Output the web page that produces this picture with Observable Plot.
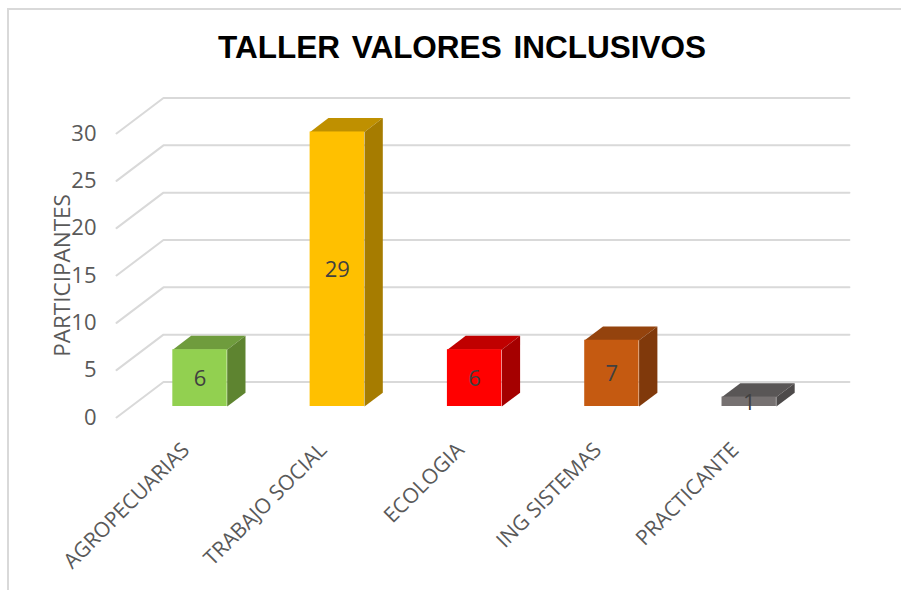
<!DOCTYPE html>
<html lang="es">
<head>
<meta charset="utf-8">
<script src="https://cdn.jsdelivr.net/npm/d3@7"></script>
<script src="https://cdn.jsdelivr.net/npm/@observablehq/plot@0.6"></script>
<style>
html,body{margin:0;padding:0;background:#fff;overflow:hidden}
#page{position:relative;width:901px;height:590px;overflow:hidden}
#frame{position:absolute;left:7px;top:8px;width:900px;height:600px;border-left:2px solid #d9d9d9;border-top:2px solid #d9d9d9}
#title{position:absolute;left:0;top:26px;width:924px;text-align:center;font:bold 31.5px "Liberation Sans",sans-serif;color:#000;word-spacing:3px;line-height:42px}
#chart{position:absolute;left:0;top:72px}
svg{overflow:visible}
</style>
</head>
<body>
<div id="page">
<div id="frame"></div>
<div id="title">TALLER VALORES INCLUSIVOS</div>
<div id="chart"></div>
</div>
<script>
const categories = ["AGROPECUARIAS", "TRABAJO SOCIAL", "ECOLOGIA", "ING SISTEMAS", "PRACTICANTE"];
const values = [6, 29, 6, 7, 1];
const frontColors = ["#92d050", "#ffc000", "#ff0000", "#c55a11", "#767171"];
const topColors = ["#6f9c3d", "#bf9000", "#c00000", "#94430d", "#595656"];
const sideColors = ["#5e8430", "#a67c00", "#a50000", "#80390b", "#4d4a4a"];
const yTicks = [0, 5, 10, 15, 20, 25, 30];

// Oblique projection, in data units: depth 0 = front of floor, depth 1 = back wall
const depthX = 0.342, depthY = 3.75;
const gridLeft = -0.608, gridRight = 4.73;
const barHalf = 0.198, barFront = 0.31, barBack = 0.70;
const py = (v, d) => v + d * depthY;

const grid = yTicks.flatMap(v => [
  {v, x: gridLeft, y: v},
  {v, x: gridLeft + depthX, y: py(v, 1)},
  {v, x: gridRight, y: py(v, 1)}
]);

const faces = values.flatMap((v, i) => {
  const l = i - barHalf, r = i + barHalf, dd = barBack - barFront;
  const b = py(0, barFront), t = py(v, barFront);
  const ox = dd * depthX, oy = dd * depthY;
  return [
    ...[[l, t], [r, t], [r + ox, t + oy], [l + ox, t + oy]].map(([x, y]) => ({id: "t" + i, x, y, c: topColors[i]})),
    ...[[r, b], [r + ox, b + oy], [r + ox, t + oy], [r, t]].map(([x, y]) => ({id: "s" + i, x, y, c: sideColors[i]}))
  ];
});

const bars = values.map((v, i) => ({i, v, c: frontColors[i]}));

const plot = Plot.plot({
  width: 901,
  height: 518,
  marginLeft: 100,
  marginRight: 0,
  marginTop: 0,
  marginBottom: 173,
  style: {background: "transparent", fontFamily: "'Open Sans',sans-serif"},
  x: {type: "linear", domain: [0, 4], range: [199.5, 748.7], axis: null},
  y: {type: "linear", domain: [0, 30], range: [345, 61], axis: null},
  marks: [
    Plot.line(grid, {x: "x", y: "y", z: "v", stroke: "#d9d9d9", strokeWidth: 2}),
    Plot.line(faces, {x: "x", y: "y", z: "id", fill: d => d.c, stroke: null}),
    Plot.rect(bars, {
      x1: d => d.i - barHalf, x2: d => d.i + barHalf,
      y1: () => py(0, barFront), y2: d => py(d.v, barFront),
      fill: d => d.c
    }),
    Plot.text(bars, {
      x: "i", y: d => py(d.v / 2, barFront), text: d => String(d.v),
      fill: "#404040", fontSize: 22, dy: 1
    }),
    Plot.axisY({
      ticks: yTicks, tickSize: 0, tickPadding: 4, label: null,
      fontSize: 22, color: "#595959"
    }),
    Plot.axisX({
      ticks: categories.map((_, i) => i),
      tickFormat: i => categories[i],
      tickRotate: -45, tickSize: 0, tickPadding: 10, label: null,
      fontSize: 21, color: "#595959", dx: -14, dy: 19
    }),
    Plot.text(["PARTICIPANTES"], {
      frameAnchor: "left", dx: -38, y: [15], text: d => d, rotate: -90,
      textAnchor: "middle", fontSize: 22.5, fill: "#595959"
    })
  ]
});
document.getElementById("chart").append(plot);
</script>
</body>
</html>
